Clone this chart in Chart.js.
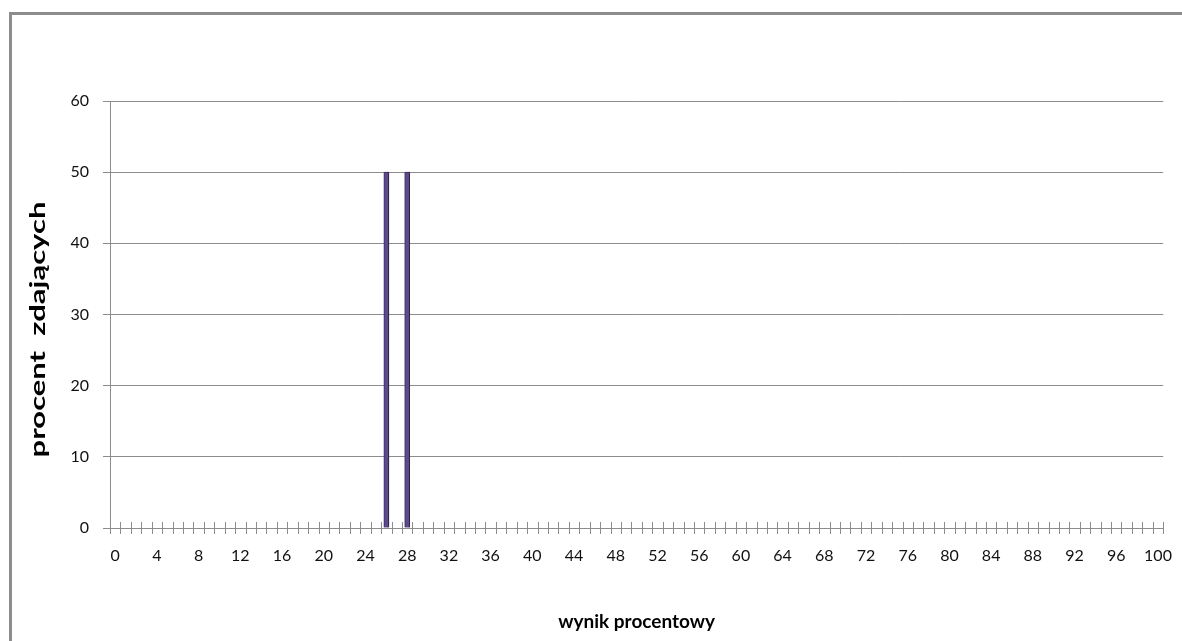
<!DOCTYPE html>
<html>
<head>
<meta charset="utf-8">
<script src="https://cdn.jsdelivr.net/npm/chart.js@4/dist/chart.umd.min.js"></script>
<style>
  html, body { margin: 0; padding: 0; background: #fff; }
  #wrap { position: relative; width: 1182px; height: 641px; overflow: hidden; }
  #frame { position: absolute; left: 9px; top: 12px; width: 1200px; height: 700px; border: 3px solid #8c8c8c; box-sizing: border-box; }
  canvas { position: absolute; left: 0; top: 0; }
</style>
</head>
<body>
<div id="wrap">
  <div id="frame"></div>
  <canvas id="histChart" width="1182" height="641"></canvas>
</div>
<script>
// kategorie osi X: wynik procentowy 0..100
const wyniki = [
  '0','1','2','3','4','5','6','7','8','9','10','11','12','13','14','15','16','17','18','19',
  '20','21','22','23','24','25','26','27','28','29','30','31','32','33','34','35','36','37','38','39',
  '40','41','42','43','44','45','46','47','48','49','50','51','52','53','54','55','56','57','58','59',
  '60','61','62','63','64','65','66','67','68','69','70','71','72','73','74','75','76','77','78','79',
  '80','81','82','83','84','85','86','87','88','89','90','91','92','93','94','95','96','97','98','99','100'
];

// procent zdających dla każdego wyniku
const procentZdajacych = [
  0,0,0,0,0,0,0,0,0,0,0,0,0,0,0,0,0,0,0,0,
  0,0,0,0,0,0,50,0,50,0,0,0,0,0,0,0,0,0,0,0,
  0,0,0,0,0,0,0,0,0,0,0,0,0,0,0,0,0,0,0,0,
  0,0,0,0,0,0,0,0,0,0,0,0,0,0,0,0,0,0,0,0,
  0,0,0,0,0,0,0,0,0,0,0,0,0,0,0,0,0,0,0,0,0
];

const yTicks = [0, 10, 20, 30, 40, 50, 60];
const co4 = 4; // co który wynik podpisany na osi
const yTytul = 'procent  zdających';

const tickColor = '#8c8c8c';

// znaczniki kategorii przecinające oś X (jak w Excelu)
const crossTicks = {
  id: 'crossTicks',
  afterDraw(chart) {
    const x = chart.scales.x;
    const ctx = chart.ctx;
    const y0 = chart.scales.y.getPixelForValue(0);
    const half = (x.getPixelForValue(1) - x.getPixelForValue(0)) / 2;
    ctx.save();
    ctx.strokeStyle = tickColor;
    ctx.lineWidth = 1;
    for (let i = 0; i <= wyniki.length; i++) {
      const px = Math.round(x.getPixelForValue(i) - half) + 0.5;
      ctx.beginPath();
      ctx.moveTo(px, y0 - 6);
      ctx.lineTo(px, y0 + 6);
      ctx.stroke();
    }
    ctx.restore();
  }
};

// tytuł osi Y - rozciągnięty jak w oryginale
const yTitle = {
  id: 'yTitle',
  afterDraw(chart) {
    const ctx = chart.ctx;
    const y = chart.scales.y;
    ctx.save();
    ctx.translate(39, (y.top + y.bottom) / 2 + 15);
    ctx.rotate(-Math.PI / 2);
    ctx.scale(1.55, 1);
    ctx.font = 'bold 20px Lato';
    ctx.fillStyle = '#000';
    ctx.textAlign = 'center';
    ctx.textBaseline = 'middle';
    ctx.fillText(yTytul, 0, 0);
    ctx.restore();
  }
};

const barShadow = {
  id: 'barShadow',
  beforeDatasetDraw(chart) {
    const ctx = chart.ctx;
    ctx.save();
    ctx.shadowColor = 'rgba(0,0,0,0.4)';
    ctx.shadowOffsetX = 2;
    ctx.shadowOffsetY = 0;
    ctx.shadowBlur = 3;
  },
  afterDatasetDraw(chart) {
    chart.ctx.restore();
  }
};

const ctx = document.getElementById('histChart').getContext('2d');
const chart = new Chart(ctx, {
  type: 'bar',
  data: {
    labels: wyniki,
    datasets: [{
      data: procentZdajacych,
      backgroundColor: '#5d4a8c',
      borderColor: '#3e2f68',
      borderWidth: 1,
      barThickness: 5
    }]
  },
  options: {
    responsive: false,
    animation: false,
    events: [],
    layout: { padding: { top: 101, right: 17, left: 0, bottom: 0 } },
    plugins: {
      legend: { display: false },
      tooltip: { enabled: false }
    },
    scales: {
      x: {
        grid: { display: false },
        border: { color: tickColor, width: 1 },
        ticks: {
          autoSkip: false,
          maxRotation: 0,
          padding: 10,
          color: '#111',
          font: { family: 'Lato', size: 16 },
          callback: function(v, i) { return i % co4 === 0 ? wyniki[i] : ''; }
        },
        title: {
          display: true,
          text: 'wynik procentowy',
          color: '#000',
          font: { family: 'Lato', size: 19, weight: 'bold' },
          padding: { top: 14, bottom: 8 }
        },
        afterFit(s) { s.height = 113; }
      },
      y: {
        min: 0,
        max: 60,
        afterBuildTicks(s) { s.ticks = yTicks.map(v => ({ value: v })); },
        grid: { color: tickColor, tickLength: 7, lineWidth: 1 },
        border: { color: tickColor, width: 1 },
        ticks: {
          padding: 14,
          color: '#111',
          font: { family: 'Lato', size: 16 }
        },
        afterFit(s) { s.width = 110; }
      }
    }
  },
  plugins: [crossTicks, barShadow, yTitle]
});
</script>
</body>
</html>
